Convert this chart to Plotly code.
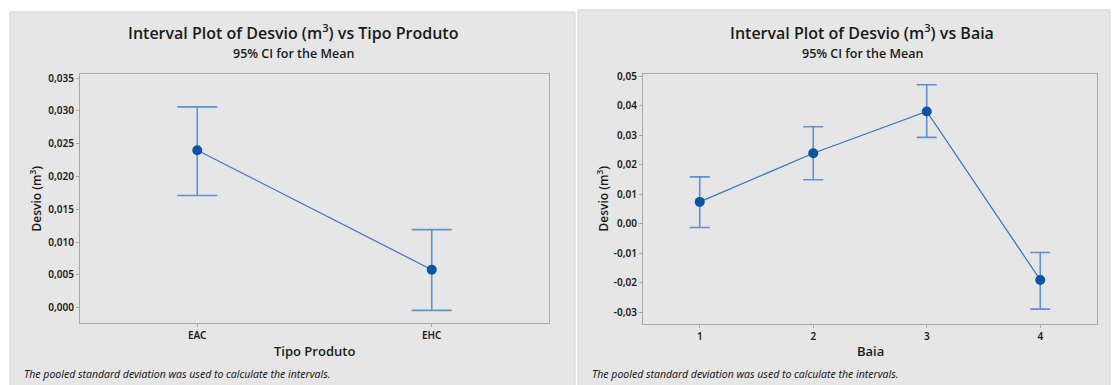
import plotly.graph_objects as go

W, H = 1117, 385

# ---- data: left panel (Tipo Produto) ----
tipo_cats = ["EAC", "EHC"]
tipo_mean = [0.0240, 0.0058]
tipo_upper = [0.0306, 0.0119]
tipo_lower = [0.0171, -0.0004]
tipo_yticks = [0.000, 0.005, 0.010, 0.015, 0.020, 0.025, 0.030, 0.035]
tipo_yticklabels = ["0,000", "0,005", "0,010", "0,015", "0,020", "0,025", "0,030", "0,035"]

# ---- data: right panel (Baia) ----
baia_cats = [1, 2, 3, 4]
baia_mean = [0.0074, 0.0239, 0.0381, -0.0191]
baia_upper = [0.0159, 0.0329, 0.0472, -0.0098]
baia_lower = [-0.0013, 0.0149, 0.0293, -0.0290]
baia_yticks = [-0.03, -0.02, -0.01, 0.00, 0.01, 0.02, 0.03, 0.04, 0.05]
baia_yticklabels = ["-0,03", "-0,02", "-0,01", "0,00", "0,01", "0,02", "0,03", "0,04", "0,05"]
baia_xticklabels = ["1", "2", "3", "4"]

FONT = "Noto Sans"
TFONT = "Open Sans"
MARKER_C = "#0B53A3"
LINE_C = "#3576C5"
ERR_C = "#5E92CF"
PANEL_C = "#E6E6E6"


def px(x):
    return x / W


def py(y):
    return 1 - y / H


fig = go.Figure()

fig.add_trace(go.Scatter(
    x=tipo_cats, y=tipo_mean, mode="lines+markers",
    line=dict(color=LINE_C, width=1.2),
    marker=dict(color=MARKER_C, size=10),
    error_y=dict(type="data", symmetric=False,
                 array=[u - m for u, m in zip(tipo_upper, tipo_mean)],
                 arrayminus=[m - l for m, l in zip(tipo_mean, tipo_lower)],
                 color=ERR_C, thickness=1.6, width=20),
    xaxis="x", yaxis="y", showlegend=False, hoverinfo="skip"))

fig.add_trace(go.Scatter(
    x=baia_cats, y=baia_mean, mode="lines+markers",
    line=dict(color=LINE_C, width=1.2),
    marker=dict(color=MARKER_C, size=10),
    error_y=dict(type="data", symmetric=False,
                 array=[u - m for u, m in zip(baia_upper, baia_mean)],
                 arrayminus=[m - l for m, l in zip(baia_mean, baia_lower)],
                 color=ERR_C, thickness=1.6, width=10),
    xaxis="x2", yaxis="y2", showlegend=False, hoverinfo="skip"))

axis_common = dict(showgrid=False, zeroline=False, showline=True, linecolor="#A8A8A8",
                   linewidth=1, mirror=True, ticks="outside", ticklen=3, tickcolor="#A8A8A8",
                   tickfont=dict(family=FONT, size=10, color="#1A1A1A", weight=600))

fig.update_layout(
    width=W, height=H,
    margin=dict(l=0, r=0, t=0, b=0),
    paper_bgcolor="white", plot_bgcolor="white",
    xaxis=dict(domain=[px(80), px(549)], anchor="y", type="category",
               range=[-0.5, 1.5], **axis_common),
    yaxis=dict(domain=[py(322), py(70)], anchor="x", range=[-0.0023, 0.0356],
               tickvals=tipo_yticks, ticktext=tipo_yticklabels, **axis_common),
    xaxis2=dict(domain=[px(643), px(1097)], anchor="y2", range=[0.5, 4.5],
                tickvals=baia_cats, ticktext=baia_xticklabels, **axis_common),
    yaxis2=dict(domain=[py(323), py(70)], anchor="x2", range=[-0.034, 0.0508],
                tickvals=baia_yticks, ticktext=baia_yticklabels, **axis_common),
)

fig.add_shape(type="rect", xref="paper", yref="paper", x0=px(10), x1=px(575), y0=py(386), y1=py(7),
              fillcolor=PANEL_C, line=dict(color="#D2D2D2", width=1), layer="below")
fig.add_shape(type="rect", xref="paper", yref="paper", x0=px(578), x1=px(1110), y0=py(386), y1=py(5),
              fillcolor=PANEL_C, line=dict(color="#D2D2D2", width=1), layer="below")


def ann(text, x, y, size, angle=0, italic=False, weight=400, xanchor="center",
        color="#1A1A1A", family=FONT):
    if italic:
        text = "<i>" + text + "</i>"
    fig.add_annotation(text=text, x=px(x), y=py(y), xref="paper", yref="paper",
                       showarrow=False, textangle=angle, xanchor=xanchor, yanchor="middle",
                       font=dict(family=family, size=size, color=color, weight=weight))


ann("Interval Plot of Desvio (m<sup>3</sup>) vs Tipo Produto", 293, 27, 16, weight=600, family=TFONT)
ann("95% CI for the Mean", 293, 49, 12.5, weight=600, family=TFONT)
ann("Interval Plot of Desvio (m<sup>3</sup>) vs Baia", 862, 27, 16, weight=600, family=TFONT)
ann("95% CI for the Mean", 862, 49, 12.5, weight=600, family=TFONT)

ann("Desvio (m<sup>3</sup>)", 36, 196, 12, angle=-90, weight=600, family=TFONT)
ann("Tipo Produto", 314, 351, 13, weight=600, family=TFONT)
ann("Desvio (m<sup>3</sup>)", 603, 196, 12, angle=-90, weight=600, family=TFONT)
ann("Baia", 870, 351, 13, weight=600, family=TFONT)

ann("The pooled standard deviation was used to calculate the intervals.", 22, 374, 10.5,
    italic=True, xanchor="left")
ann("The pooled standard deviation was used to calculate the intervals.", 590, 374, 10.5,
    italic=True, xanchor="left")

fig.write_html("out.html", config={"displayModeBar": False},
               post_script="document.body.style.margin='0';document.body.style.overflow='hidden';")
